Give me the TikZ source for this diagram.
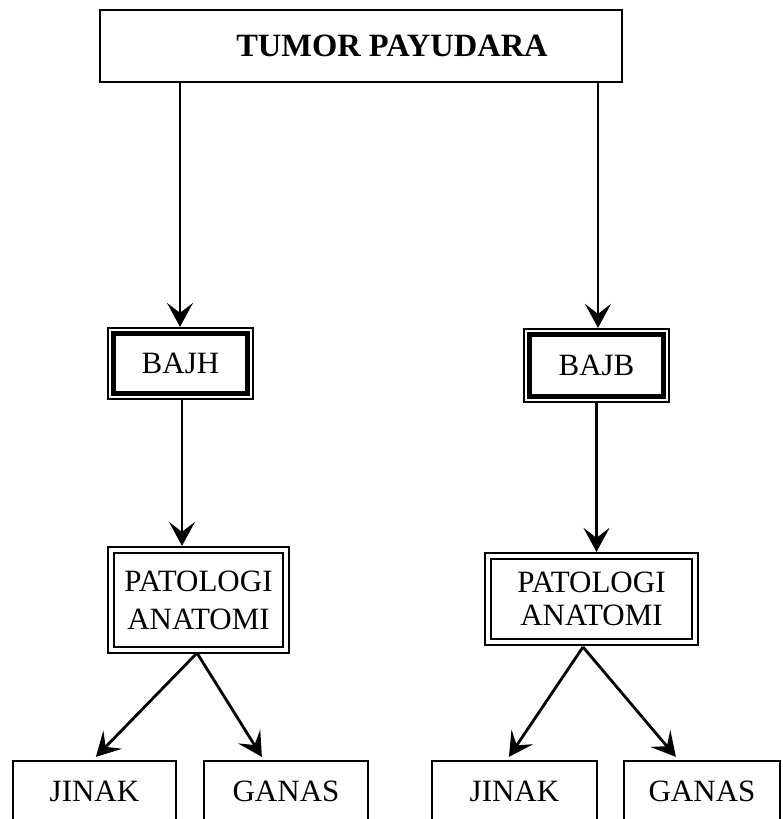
\documentclass[tikz,border=0pt]{standalone}
\usepackage{fontspec}
\setmainfont{Liberation Serif}
\usetikzlibrary{arrows.meta,calc}
\begin{document}
\begin{tikzpicture}[x=1pt,y=-1pt,
  lbl/.style={font=\fontsize{31}{35}\selectfont, align=center, inner sep=0pt},
  plainbox/.style={draw, line width=2.2pt, inner sep=0pt, lbl},
  innerthick/.style={line width=5pt},
  innerthin/.style={line width=2pt},
  arr/.style={line width=2.8pt, -{Stealth[length=24pt,width=26pt,inset=10pt]}}
]
\useasboundingbox (0,0) rectangle (782,819);
\clip (0,0) rectangle (782,819);

% title
\node[plainbox, minimum width=522pt, minimum height=72pt,
      font=\fontsize{32.5}{36}\selectfont\bfseries] (top) at (361,46) {\hspace*{62pt}TUMOR PAYUDARA};

% BAJH / BAJB
\node[plainbox, minimum width=145pt, minimum height=71pt] (bajh) at (180.5,363.5) {BAJH};
\node[plainbox, minimum width=145pt, minimum height=73pt] (bajb) at (596.5,365.5) {BAJB};
\draw[innerthick] ($(bajh.north west)+(6.5,6.5)$) rectangle ($(bajh.south east)+(-6.5,-6.5)$);
\draw[innerthick] ($(bajb.north west)+(6.5,6.5)$) rectangle ($(bajb.south east)+(-6.5,-6.5)$);

% Patologi anatomi
\node[plainbox, minimum width=181pt, minimum height=106pt, font=\fontsize{31}{38}\selectfont] (pa1) at (198.5,600) {PATOLOGI\\ANATOMI};
\node[plainbox, minimum width=213pt, minimum height=92pt, font=\fontsize{31}{33}\selectfont] (pa2) at (591.5,599) {PATOLOGI\\ANATOMI};
\draw[innerthin] ($(pa1.north west)+(7,7)$) rectangle ($(pa1.south east)+(-7,-7)$);
\draw[innerthin] ($(pa2.north west)+(7,7)$) rectangle ($(pa2.south east)+(-7,-7)$);

% bottom boxes (bottom edge outside picture)
\node[plainbox, minimum width=163pt, minimum height=66pt] (j1) at (94.5,794) {\raisebox{5pt}{JINAK}};
\node[plainbox, minimum width=164pt, minimum height=66pt] (g1) at (286,794) {\raisebox{5pt}{GANAS}};
\node[plainbox, minimum width=165pt, minimum height=66pt] (j2) at (514.5,794) {\raisebox{5pt}{JINAK}};
\node[plainbox, minimum width=156pt, minimum height=66pt] (g2) at (702,794) {\raisebox{5pt}{GANAS}};

% connector points
\coordinate (tl) at (180,82);
\coordinate (tr) at (598,82);
\coordinate (a1) at (197,653);
\coordinate (a2) at (583,647);

\draw[arr] (tl) -- (bajh.north -| tl);
\draw[arr] (tr) -- (bajb.north -| tr);
\draw[arr] (bajh.south -| 182,0) -- (pa1.north -| 182,0);
\draw[arr] (bajb.south) -- (pa2.north -| bajb.south);

\draw[arr] (a1) -- ($(j1.north west)+(84,-3)$);
\draw[arr] (a1) -- ($(g1.north west)+(59,-3)$);
\draw[arr] (a2) -- ($(j2.north west)+(78,-3)$);
\draw[arr] (a2) -- ($(g2.north west)+(53,-3)$);
\end{tikzpicture}
\end{document}
